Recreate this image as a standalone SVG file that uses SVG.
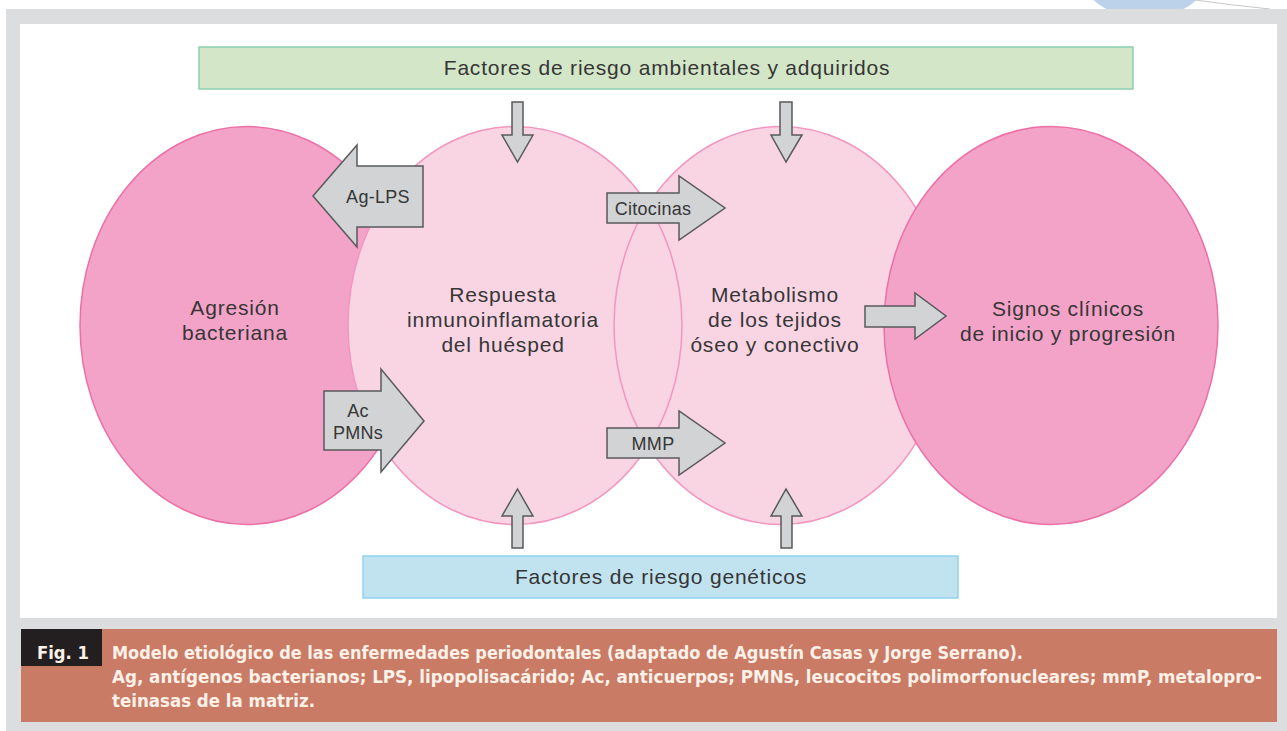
<svg xmlns="http://www.w3.org/2000/svg" width="1287" height="731" viewBox="0 0 1287 731">
<style>
.t{font-family:"Liberation Sans",Arial,sans-serif;font-size:21px;letter-spacing:0.8px;fill:#363636;text-anchor:middle}
.ta{font-family:"Liberation Sans",Arial,sans-serif;font-size:18px;letter-spacing:0.3px;fill:#363636;text-anchor:middle}
.arrow{fill:#d1d3d4;stroke:#58595b;stroke-width:1.5;stroke-linejoin:miter}
.dark{fill:#f4a3c8;stroke:#ec6fa6;stroke-width:1.5}
.light{fill:#f9d5e4}
.lightS{fill:none;stroke:#f296bf;stroke-width:1.5}
.cap{font-family:"Liberation Sans Narrow","DejaVu Sans Condensed","Liberation Sans",sans-serif;font-weight:bold;font-size:17px;fill:#fdf1e8}
</style>
<rect x="0" y="0" width="1287" height="731" fill="#ffffff"/>
<g id="logo-fragment">
<ellipse cx="1145" cy="-30" rx="66" ry="48" fill="#bcd2ea"/>
<path d="M1195,0 Q1230,5 1270,9" fill="none" stroke="#c8c8c8" stroke-width="1"/>
</g>
<rect x="6" y="9" width="1281" height="722" fill="#dcdddf"/>
<rect x="20" y="24" width="1257" height="594" fill="#ffffff"/>

<g id="node-agresion">
<ellipse class="dark" cx="247" cy="325.5" rx="167" ry="199"/>
<text class="t"><tspan x="235" y="315">Agresión</tspan><tspan x="235" y="340">bacteriana</tspan></text>
</g>
<g id="node-respuesta">
<ellipse class="light" cx="515" cy="325.5" rx="167" ry="199"/>
</g>
<g id="node-metabolismo">
<ellipse class="light" cx="781" cy="325.5" rx="167" ry="199"/>
</g>
<g id="ellipse-strokes">
<ellipse class="lightS" cx="515" cy="325.5" rx="167" ry="199"/>
<ellipse class="lightS" cx="781" cy="325.5" rx="167" ry="199"/>
</g>
<g id="node-signos">
<ellipse class="dark" cx="1051" cy="325.5" rx="167" ry="199"/>
<text class="t"><tspan x="1068" y="316">Signos clínicos</tspan><tspan x="1068" y="341">de inicio y progresión</tspan></text>
</g>
<g id="labels-center">
<text class="t"><tspan x="503" y="302">Respuesta</tspan><tspan x="503" y="327">inmunoinflamatoria</tspan><tspan x="503" y="352">del huésped</tspan></text>
<text class="t"><tspan x="775" y="302">Metabolismo</tspan><tspan x="775" y="327">de los tejidos</tspan><tspan x="775" y="352">óseo y conectivo</tspan></text>
</g>

<g id="node-ambientales">
<rect x="199" y="47" width="934" height="42" fill="#d3e7c8" stroke="#8ccfb4" stroke-width="1.5"/>
<text class="t" x="667" y="75">Factores de riesgo ambientales y adquiridos</text>
</g>
<g id="node-geneticos">
<rect x="363" y="556" width="595" height="42" fill="#c1e3f0" stroke="#8fd3ee" stroke-width="1.5"/>
<text class="t" x="661" y="584">Factores de riesgo genéticos</text>
</g>

<g id="connectors">
<path class="arrow" d="M512,102 H523 V135 H533 L517.5,162 L502,135 H512 Z"/>
<path class="arrow" d="M780,102 H792 V135 H802 L786,162 L771,135 H780 Z"/>
<path class="arrow" d="M512,548 H523 V516 H533 L517.5,489 L502,516 H512 Z"/>
<path class="arrow" d="M781,548 H792 V516 H802 L786,489 L771,516 H781 Z"/>
<path class="arrow" d="M423,166 V227 H357 V247 L313,196 L357,145 V166 Z"/>
<text class="ta" x="378" y="203">Ag-LPS</text>
<path class="arrow" d="M324,391 H381 V369 L424,421 L381,472 V450 H324 Z"/>
<text class="ta"><tspan x="358" y="417">Ac</tspan><tspan x="358" y="439">PMNs</tspan></text>
<path class="arrow" d="M607,193 H679 V176 L725,208 L679,240 V223 H607 Z"/>
<text class="ta" x="653" y="215">Citocinas</text>
<path class="arrow" d="M607,428 H679 V411 L725,443 L679,475 V458 H607 Z"/>
<text class="ta" x="653" y="450">MMP</text>
<path class="arrow" d="M865,306 H915 V293 L946,316 L915,339 V327 H865 Z"/>
</g>

<g id="caption">
<rect x="21" y="629" width="1256" height="93" fill="#c97b66"/>
<rect x="21" y="629" width="81" height="37" fill="#231f20"/>
<text class="cap" x="37" y="659" fill="#ffffff" textLength="52" lengthAdjust="spacingAndGlyphs">Fig. 1</text>
<text class="cap" x="112" y="659" textLength="911" lengthAdjust="spacingAndGlyphs">Modelo etiológico de las enfermedades periodontales (adaptado de Agustín Casas y Jorge Serrano).</text>
<text class="cap" x="112" y="683" textLength="1150" lengthAdjust="spacingAndGlyphs">Ag, antígenos bacterianos; LPS, lipopolisacárido; Ac, anticuerpos; PMNs, leucocitos polimorfonucleares; mmP, metalopro-</text>
<text class="cap" x="112" y="707" textLength="203" lengthAdjust="spacingAndGlyphs">teinasas de la matriz.</text>
</g>
</svg>
